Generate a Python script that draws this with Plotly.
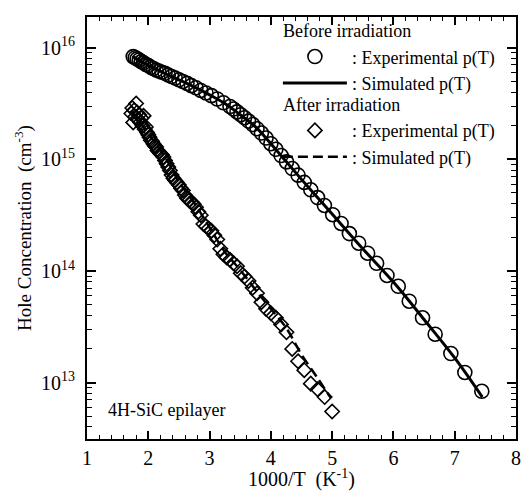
import plotly.graph_objects as go

# ---- data ----
x_before = [1.754, 1.786, 1.818, 1.852, 1.887, 1.923, 1.961, 2.000, 2.041, 2.083,
            2.128, 2.174, 2.222, 2.273, 2.326, 2.381, 2.439, 2.500, 2.564, 2.632,
            2.703, 2.778, 2.857, 2.941, 3.030, 3.125, 3.226, 3.333, 3.390, 3.448,
            3.509, 3.571, 3.636, 3.704, 3.774, 3.846, 3.922, 4.000, 4.082, 4.167,
            4.255, 4.348, 4.444, 4.545, 4.651, 4.762, 4.874, 5.009, 5.146, 5.281,
            5.433, 5.579, 5.726, 5.895, 6.079, 6.258, 6.475, 6.681, 6.937, 7.165,
            7.442]
p_before = [8.32e15, 8.13e15, 7.94e15, 7.76e15, 7.50e15, 7.33e15, 7.08e15, 6.92e15, 6.68e15, 6.50e15,
            6.31e15, 6.17e15, 6.03e15, 5.89e15, 5.69e15, 5.52e15, 5.35e15, 5.16e15, 4.98e15, 4.79e15,
            4.57e15, 4.37e15, 4.14e15, 3.93e15, 3.72e15, 3.47e15, 3.21e15, 2.97e15, 2.82e15, 2.66e15,
            2.51e15, 2.36e15, 2.20e15, 2.05e15, 1.88e15, 1.72e15, 1.55e15, 1.38e15, 1.23e15, 1.08e15,
            9.48e14, 8.26e14, 7.21e14, 6.21e14, 5.33e14, 4.54e14, 3.86e14, 3.19e14, 2.66e14, 2.16e14,
            1.77e14, 1.44e14, 1.17e14, 9.10e13, 7.28e13, 5.35e13, 3.80e13, 2.71e13, 1.82e13, 1.23e13,
            8.34e12]

x_sim_before = [1.74, 2.0, 2.25, 2.5, 2.75, 3.0, 3.25, 3.5, 3.75, 4.0,
                4.25, 4.5, 4.75, 5.0, 5.5, 6.0, 6.5, 7.0, 7.45]
p_sim_before = [8.36e15, 6.92e15, 5.96e15, 5.16e15, 4.45e15, 3.78e15, 3.16e15, 2.51e15, 1.95e15, 1.38e15,
                9.55e14, 6.61e14, 4.62e14, 3.24e14, 1.58e14, 7.94e13, 3.67e13, 1.66e13, 7.41e12]

x_after = [1.724, 1.739, 1.754, 1.770, 1.786, 1.802, 1.818, 1.835, 1.852, 1.869,
           1.887, 1.905, 1.923, 1.942, 1.961, 1.980, 2.000, 2.020, 2.041, 2.062,
           2.083, 2.105, 2.128, 2.151, 2.174, 2.198, 2.222, 2.247, 2.273, 2.299,
           2.326, 2.353, 2.381, 2.410, 2.439, 2.469, 2.500, 2.532, 2.564, 2.597,
           2.632, 2.667, 2.703, 2.740, 2.778, 2.817, 2.857, 2.899, 2.941, 2.985,
           3.030, 3.077, 3.125, 3.175, 3.226, 3.279, 3.333, 3.390, 3.448, 3.509,
           3.571, 3.636, 3.704, 3.774, 3.846, 3.922, 4.000, 4.082, 4.167, 4.255,
           4.348, 4.444, 4.545, 4.651, 4.762, 4.878, 5.000]
p_after = [2.57e15, 2.88e15, 2.14e15, 2.75e15, 2.40e15, 3.16e15, 2.63e15, 2.29e15, 2.51e15, 2.14e15,
           2.34e15, 2.00e15, 2.45e15, 1.86e15, 1.95e15, 1.74e15, 1.66e15, 1.58e15, 1.48e15, 1.45e15,
           1.38e15, 1.32e15, 1.29e15, 1.20e15, 1.17e15, 1.12e15, 1.10e15, 1.05e15, 9.77e14, 9.12e14,
           8.51e14, 7.94e14, 7.24e14, 6.76e14, 6.46e14, 6.17e14, 5.89e14, 5.50e14, 5.25e14, 4.79e14,
           4.47e14, 4.27e14, 4.17e14, 3.98e14, 3.72e14, 3.39e14, 3.16e14, 2.63e14, 2.51e14, 2.40e14,
           2.29e14, 2.09e14, 1.91e14, 1.58e14, 1.41e14, 1.32e14, 1.26e14, 1.17e14, 1.10e14, 9.55e13,
           8.91e13, 8.13e13, 7.08e13, 6.31e13, 5.25e13, 4.57e13, 4.17e13, 3.80e13, 3.31e13, 2.82e13,
           2.00e13, 1.55e13, 1.29e13, 9.77e12, 8.71e12, 7.41e12, 5.50e12]

x_sim_after = [1.72, 2.0, 2.25, 2.5, 2.75, 3.0, 3.25, 3.5, 3.75, 4.0, 4.25, 4.5, 4.75, 4.98]
p_sim_after = [2.75e15, 1.70e15, 1.10e15, 6.31e14, 4.07e14, 2.45e14, 1.48e14, 1.02e14, 6.76e13, 4.57e13,
               3.09e13, 1.78e13, 1.12e13, 7.24e12]

y_tick_vals = [1e13, 1e14, 1e15, 1e16]
y_tick_text = ["10<sup>13</sup>", "10<sup>14</sup>", "10<sup>15</sup>", "10<sup>16</sup>"]
y_minor_vals = [m * 10 ** e for e in range(12, 17) for m in range(2, 10)]

FONT = "Liberation Serif"

fig = go.Figure()
fig.add_trace(go.Scatter(
    x=x_before, y=p_before, mode="markers", name=": Experimental p(T)", legend="legend",
    legendgroup="before", legendgrouptitle=dict(text="Before irradiation", font=dict(size=18)),
    marker=dict(symbol="circle-open", size=14, color="black", line=dict(width=1.6, color="black"))))
fig.add_trace(go.Scatter(
    x=x_sim_before, y=p_sim_before, mode="lines", name=": Simulated p(T)", legend="legend",
    legendgroup="before", line=dict(color="black", width=3, shape="spline")))
fig.add_trace(go.Scatter(
    x=x_after, y=p_after, mode="markers", name=": Experimental p(T)", legend="legend2",
    legendgroup="after", legendgrouptitle=dict(text="After irradiation", font=dict(size=18)),
    marker=dict(symbol="diamond-open", size=11, color="black", line=dict(width=1.6, color="black"))))
fig.add_trace(go.Scatter(
    x=x_sim_after, y=p_sim_after, mode="lines", name=": Simulated p(T)", legend="legend2",
    legendgroup="after", line=dict(color="black", width=2.5, dash="10px,5px", shape="spline")))

fig.add_annotation(text="4H-SiC epilayer", xref="paper", yref="paper", x=0.045, y=0.068,
                   xanchor="left", yanchor="middle", showarrow=False,
                   font=dict(family=FONT, size=18, color="black"))

legend_style = dict(xanchor="left", yanchor="top", bgcolor="rgba(0,0,0,0)", borderwidth=0,
                    tracegroupgap=0, itemwidth=64, traceorder="grouped",
                    font=dict(family=FONT, size=18, color="black"))

fig.update_layout(
    width=529, height=491,
    margin=dict(l=87, r=13, t=13, b=52),
    paper_bgcolor="white", plot_bgcolor="white",
    font=dict(family=FONT, size=18, color="black"),
    showlegend=True,
    legend=dict(x=0.445, y=1.012, **legend_style),
    legend2=dict(x=0.445, y=0.837, **legend_style),
)
fig.update_xaxes(
    range=[1, 8], tick0=1, dtick=1, ticks="inside", ticklen=8, tickwidth=1.5,
    tickcolor="black", showline=True, linewidth=2, linecolor="black", mirror="allticks",
    showgrid=False, zeroline=False, ticklabelstandoff=0,
    tickfont=dict(family=FONT, size=20),
    minor=dict(dtick=0.2, ticks="inside", ticklen=4, tickwidth=1.2, tickcolor="black", showgrid=False),
    title=dict(text="1000/T  (K<sup>-1</sup>)", font=dict(family=FONT, size=20), standoff=6),
    automargin=False)
fig.update_yaxes(
    type="log", range=[12.494, 16.275], tickmode="array", tickvals=y_tick_vals, ticktext=y_tick_text,
    ticks="inside", ticklen=9, tickwidth=1.5, tickcolor="black",
    showline=True, linewidth=2, linecolor="black", mirror="allticks",
    showgrid=False, zeroline=False, ticklabelstandoff=6,
    tickfont=dict(family=FONT, size=20),
    minor=dict(tickmode="array", tickvals=y_minor_vals, ticks="inside", ticklen=5, tickwidth=1.2,
               tickcolor="black", showgrid=False),
    title=dict(text="Hole Concentration  (cm<sup>-3</sup>)", font=dict(family=FONT, size=19), standoff=4),
    automargin=False)

fig.write_html("out.html", config={"displayModeBar": False},
               post_script="document.body.style.margin='0';")
